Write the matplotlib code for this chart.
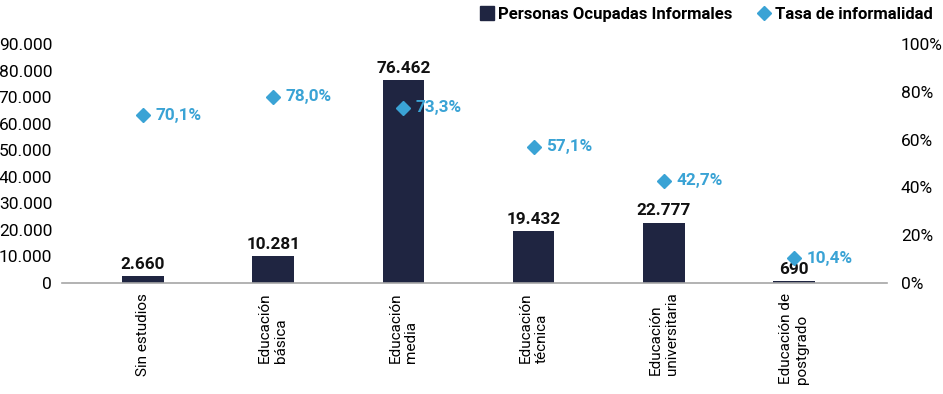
import matplotlib
matplotlib.use("Agg")
import matplotlib.pyplot as plt
from matplotlib.lines import Line2D
import numpy as np

categories = ["Sin estudios", "Educación\nbásica", "Educación\nmedia",
              "Educación\ntécnica", "Educación\nuniversitaria", "Educación de\npostgrado"]
ocupados = [2660, 10281, 76462, 19432, 22777, 690]
tasa = [70.1, 78.0, 73.3, 57.1, 42.7, 10.4]
left_ticks = [0, 10000, 20000, 30000, 40000, 50000, 60000, 70000, 80000, 90000]
right_ticks = [0, 20, 40, 60, 80, 100]

NAVY = "#1f2541"
BLUE = "#3aa3d5"
plt.rcParams['font.family'] = ['Roboto', 'DejaVu Sans']

def fmt_thousands(v):
    return f"{int(v):,}".replace(",", ".")

fig = plt.figure(figsize=(9.43, 3.94), dpi=100)
ax = fig.add_axes([0.0657, 0.2817, 0.8749, 0.6066])
ax2 = ax.twinx()

x = np.arange(len(categories))
ax.bar(x, ocupados, width=0.32, color=NAVY, zorder=2)
ax.set_ylim(0, 90000)
ax.set_xlim(-0.622, len(categories) - 1 + 0.714)
ax.set_yticks(left_ticks)
ax.set_yticklabels([fmt_thousands(v) for v in left_ticks], fontsize=12.5)
ax.set_xticks(x)
ax.set_xticklabels(categories, rotation=90, fontsize=11, va='top', ha='center',
                   multialignment='left')
ax.tick_params(axis='both', length=0)
ax.tick_params(axis='y', pad=7)
ax.tick_params(axis='x', pad=7)
for s in ["top", "left", "right"]:
    ax.spines[s].set_visible(False)
ax.spines["bottom"].set_color("#a6a6a6")
ax.spines["bottom"].set_linewidth(1.2)

for xi, v in zip(x, ocupados):
    ax.annotate(fmt_thousands(v), (xi, v), xytext=(0, 3), textcoords='offset points',
                ha='center', va='bottom', fontsize=12.3, fontweight='bold', color='#111111')

ax2.set_ylim(0, 100)
ax2.plot(x, tasa, linestyle='none', marker='D', markersize=7.5, color=BLUE, zorder=3)
ax2.set_yticks(right_ticks)
ax2.set_yticklabels([f"{v}%" for v in right_ticks], fontsize=12.5)
ax2.tick_params(axis='y', length=0, pad=10)
for s in ["top", "left", "right", "bottom"]:
    ax2.spines[s].set_visible(False)
for xi, v in zip(x, tasa):
    ax2.annotate(f"{v:.1f}%".replace(".", ","), (xi, v), xytext=(9, 0),
                 textcoords='offset points', ha='left', va='center',
                 fontsize=12.3, fontweight='bold', color=BLUE)

handles = [Line2D([], [], linestyle='none', marker='s', markersize=10, color=NAVY),
           Line2D([], [], linestyle='none', marker='D', markersize=7, color=BLUE)]
fig.legend(handles, ["Personas Ocupadas Informales", "Tasa de informalidad"],
           loc='upper right', bbox_to_anchor=(1.005, 1.02), ncol=2, frameon=False,
           prop={'size': 12, 'weight': 'bold'}, handletextpad=0.15, columnspacing=1.4,
           handlelength=1.0)

fig.savefig("out.png", dpi=100)
